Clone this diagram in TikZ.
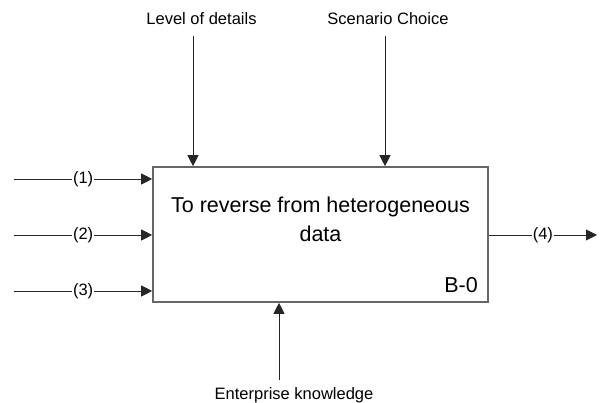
\documentclass[tikz,border=0pt]{standalone}
\usepackage{fontspec}
\setmainfont{Liberation Sans}
\usetikzlibrary{arrows.meta,positioning,calc}

\tikzset{
    flow/.style={draw=black!85, line width=0.9pt, -{Triangle[length=11pt,width=11pt]}},
    lbl/.style={font=\fontsize{16.5}{20}\selectfont, inner sep=0pt},
    tag/.style={lbl, fill=white, inner xsep=1pt, inner ysep=2pt},
    activity/.style={draw=black!60, line width=1.6pt, minimum width=335pt, minimum height=135pt}
}

\begin{document}
\begin{tikzpicture}[x=1pt, y=-1pt]
    \useasboundingbox (0,0) rectangle (600,403);

    \node[activity] (act) at (320.5, 234.5) {};
    \node[align=center, anchor=base, font=\fontsize{21.5}{29}\selectfont] (title) at (320.5, 242) {To reverse from heterogeneous\\data};
    \node[anchor=base east, font=\fontsize{21.5}{26}\selectfont, inner sep=0pt] (num) at (478, 293) {B-0};

    % controls and mechanism
    \node[lbl, anchor=base] (lod) at (201.5, 25) {Level of details};
    \node[lbl, anchor=base] (sc) at (388, 24.5) {Scenario Choice};
    \node[lbl, anchor=base] (ek) at (294, 399.5) {Enterprise knowledge};

    \coordinate (lodtop) at (193, 36);
    \coordinate (sctop) at (385, 36);
    \coordinate (ekbot) at (279, 380);

    % inputs and output
    \coordinate (in1) at (14, 179);
    \coordinate (in2) at (14, 235);
    \coordinate (in3) at (14, 291);
    \coordinate (out) at (597, 235);

    \draw
    (lodtop) edge [flow] (lodtop |- act.north)
    (sctop) edge [flow] (sctop |- act.north)
    (ekbot) edge [flow] (ekbot |- act.south)
    (in1) edge [flow] node[tag]{(1)} (in1 -| act.west)
    (in2) edge [flow] node[tag]{(2)} (in2 -| act.west)
    (in3) edge [flow] node[tag]{(3)} (in3 -| act.west)
    (out -| act.east) edge [flow] node[tag]{(4)} (out);
\end{tikzpicture}
\end{document}
